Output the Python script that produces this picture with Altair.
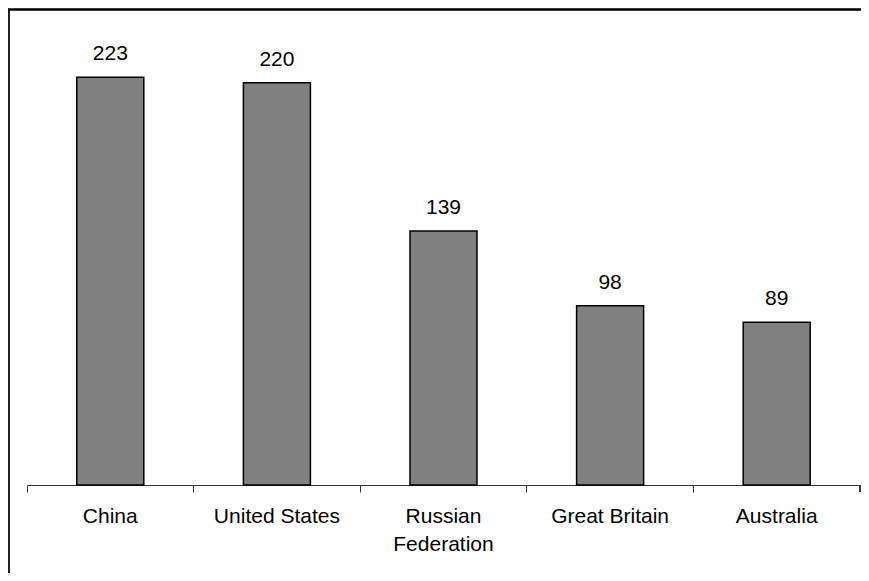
import altair as alt
import pandas as pd

countries = ["China", "United States", "Russian Federation", "Great Britain", "Australia"]
labels = ["China", "United States", "Russian\nFederation", "Great Britain", "Australia"]
medals = [223, 220, 139, 98, 89]

df = pd.DataFrame({"country": countries, "label": labels, "medals": medals})

W, H = 833, 457
FONT = "Liberation Sans"

xenc = alt.X("country:N", sort=None,
             scale=alt.Scale(paddingInner=0, paddingOuter=0),
             axis=alt.Axis(title=None, labels=False, bandPosition=0, tickSize=7,
                           domainColor="#333", tickColor="#333", domainWidth=1, tickWidth=1,
                           grid=False))
yenc = alt.Y("medals:Q", scale=alt.Scale(domain=[0, 250]), axis=None)

base = alt.Chart(df)

bars = base.mark_bar(color="#808080", stroke="#000", strokeWidth=1.5, width=67).encode(
    x=xenc, y=yenc)

values = base.mark_text(font=FONT, fontSize=21, dy=-17, baseline="alphabetic",
                        color="#000").encode(
    x=alt.X("country:N", sort=None), y=yenc, text="medals:Q")

xlabels = base.mark_text(font=FONT, fontSize=21, baseline="alphabetic", lineBreak="\n",
                         lineHeight=28, color="#000").encode(
    x=alt.X("country:N", sort=None), y=alt.value(H + 38), text="label:N")

end_tick = base.mark_rule(color="#333", strokeWidth=1).encode(
    x=alt.value(W), y=alt.value(H), y2=alt.value(H + 7))

frame_left = base.mark_rule(color="#222", strokeWidth=2).encode(
    x=alt.value(-18), y=alt.value(-19), y2=alt.value(H + 90))
frame_top = base.mark_rule(color="#000", strokeWidth=1.5).encode(
    x=alt.value(-19), x2=alt.value(W + 1), y=alt.value(-18.5))

chart = alt.layer(bars, values, xlabels, end_tick, frame_left, frame_top).properties(
    width=W, height=H,
    background="white",
    autosize=alt.AutoSizeParams(type="none"),
    padding={"left": 19, "top": 20, "right": 1, "bottom": 88},
).configure_view(stroke="transparent", strokeWidth=0)

chart.save("out.html", embed_options={"renderer": "svg", "actions": False})
